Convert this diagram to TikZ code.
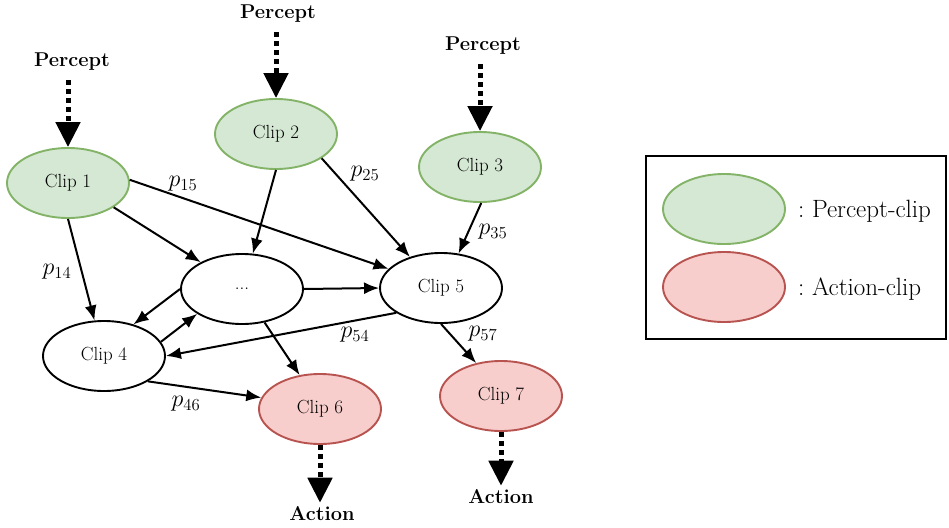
\RequirePackage{fix-cm}
\documentclass[tikz,border=0pt]{standalone}
\usepackage{fontspec}
\usetikzlibrary{shapes.geometric,arrows.meta}
\definecolor{pfill}{HTML}{D5E8D4}
\definecolor{pline}{HTML}{82B366}
\definecolor{afill}{HTML}{F8CECC}
\definecolor{aline}{HTML}{B85450}
\begin{document}
\begin{tikzpicture}[x=1pt,y=-1pt,
  clipnode/.style={ellipse, line width=1.9pt, minimum width=122pt, minimum height=70pt,
    inner sep=0pt, font=\fontsize{19}{22}\selectfont},
  perceptclip/.style={clipnode, draw=pline, fill=pfill},
  actionclip/.style={clipnode, draw=aline, fill=afill},
  plainclip/.style={clipnode, draw=black, fill=white},
  edge/.style={line width=2pt, -{Latex[length=15pt,width=12pt]}},
  cue/.style={line width=5pt, dash pattern=on 5pt off 4pt, -{Triangle[length=25pt,width=24pt]}},
  cuelabel/.style={font=\fontsize{20}{22}\selectfont\bfseries, inner sep=0pt},
  plabel/.style={font=\fontsize{24}{26}\selectfont, inner sep=0pt},
  legendtext/.style={font=\fontsize{25}{28}\selectfont, anchor=west, inner sep=0pt}
]
\useasboundingbox (0,0) rectangle (949,527);

% clips
\node[perceptclip] (c1) at (68,183) {Clip 1};
\node[perceptclip] (c2) at (276,134) {Clip 2};
\node[perceptclip] (c3) at (480,167) {Clip 3};
\node[plainclip]   (cd) at (242,289) {...};
\node[plainclip]   (c5) at (441,288) {Clip 5};
\node[plainclip]   (c4) at (104,356) {Clip 4};
\node[actionclip]  (c6) at (320,409) {Clip 6};
\node[actionclip]  (c7) at (501,396) {Clip 7};

% inputs and outputs
\node[cuelabel] (in1) at (72,62) {Percept};
\node[cuelabel] (in2) at (278,14) {Percept};
\node[cuelabel] (in3) at (483,46) {Percept};
\node[cuelabel] (out6) at (322,514) {Action};
\node[cuelabel] (out7) at (501,497) {Action};

\draw[cue] (c1.north |- in1.south) ++(0,9) -- (c1.north);
\draw[cue] (c2.north |- in2.south) ++(0,9) -- (c2.north);
\draw[cue] (c3.north |- in3.south) ++(0,9) -- (c3.north);
\draw[cue] (c6.south) -- ([yshift=4pt]c6.south |- out6.north);
\draw[cue] (c7.south) -- ([yshift=4pt]c7.south |- out7.north);

% transitions
\draw[edge] (c1.3)   -- (c5.160);
\draw[edge] (c1.-28) -- (cd.147);
\draw[edge] (c1.-90) -- (c4.105);
\draw[edge] (c2.-90) -- (cd.73);
\draw[edge] (c2.-28) -- (c5.135);
\draw[edge] (c3.-88) -- (c5.63);
\draw[edge] (cd.east) -- (c5.west);
\draw[edge] (cd.180) -- (c4.47);
\draw[edge] (c4.14)  -- (cd.-151);
\draw[edge] (c5.-151) -- (c4.east);
\draw[edge] (cd.-56) -- (c6.121);
\draw[edge] (c4.-30) -- (c6.169);
\draw[edge] (c5.-90) -- (c7.127);

% transition probabilities
\node[plabel] (l15) at (183,184) {$p_{15}$};
\node[plabel] (l25) at (365,174) {$p_{25}$};
\node[plabel] (l35) at (493,232) {$p_{35}$};
\node[plabel] (l14) at (57,272)  {$p_{14}$};
\node[plabel] (l54) at (355,335) {$p_{54}$};
\node[plabel] (l57) at (483,334) {$p_{57}$};
\node[plabel] (l46) at (186,404) {$p_{46}$};

% legend
\node[draw, line width=2.2pt, minimum width=300pt, minimum height=183pt, inner sep=0pt] (legend) at (796,247.5) {};
\node[perceptclip] (lgp) at (724,209) {};
\node[actionclip]  (lga) at (724,287) {};
\node[legendtext] (lgpt) at (798,211) {:\ Percept-clip};
\node[legendtext] (lgat) at (798,289) {:\ Action-clip};
\end{tikzpicture}
\end{document}
